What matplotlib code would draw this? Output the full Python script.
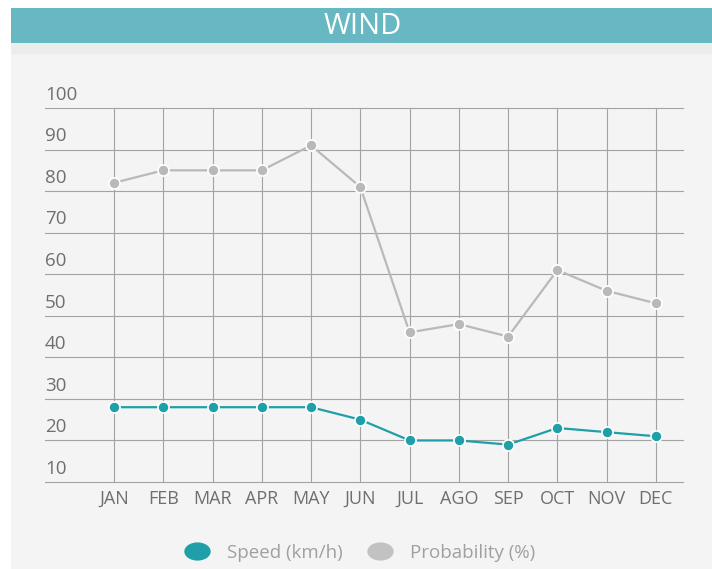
import numpy as np
import matplotlib.pyplot as plt
from matplotlib.patches import Rectangle
from matplotlib.lines import Line2D
from matplotlib.path import Path
from matplotlib.transforms import blended_transform_factory

# Datos mensuales de viento
meses = ['JAN', 'FEB', 'MAR', 'APR', 'MAY', 'JUN', 'JUL', 'AGO', 'SEP', 'OCT', 'NOV', 'DEC']
velocidad = [28, 28, 28, 28, 28, 25, 20, 20, 19, 23, 22, 21]
probabilidad = [82, 85, 85, 85, 91, 81, 46, 48, 45, 61, 56, 53]
ticks_y = [10, 20, 30, 40, 50, 60, 70, 80, 90, 100]

color_titulo = '#67b8c2'
color_vel = '#1f9fa8'
color_prob = '#b9b9b9'
color_texto = '#6f6f6f'
color_grid = '#a3a3a3'

plt.rcParams['font.family'] = ['Open Sans', 'DejaVu Sans']

fig = plt.figure(figsize=(7.12, 5.69), dpi=100)
fig.patch.set_facecolor('white')

W, H = 712, 569
# Panel de fondo y barra del titulo
fig.add_artist(Rectangle((11 / W, 0), 1 - 11 / W, 1 - 8 / H, transform=fig.transFigure,
                         facecolor='#f4f4f4', edgecolor='none', zorder=0))
fig.add_artist(Rectangle((11 / W, 1 - 54 / H), 1 - 11 / W, 11 / H, transform=fig.transFigure,
                         facecolor='#ebedeb', edgecolor='none', zorder=0))
fig.add_artist(Rectangle((11 / W, 1 - 43 / H), 1 - 11 / W, 35 / H, transform=fig.transFigure,
                         facecolor=color_titulo, edgecolor='none', zorder=1))
fig.text(363 / W, 1 - 26 / H, 'WIND', color='white', fontsize=21, ha='center', va='center',
         zorder=2)

ax = fig.add_axes([45 / W, 1 - 482 / H, (683 - 45) / W, (482 - 108) / H])
ax.set_facecolor('none')
x = np.arange(len(meses))
ax.set_xlim(-1.40, 11.55)
ax.set_ylim(10, 100)

# Rejilla
for yv in ticks_y:
    ax.axhline(yv, color=color_grid, lw=0.8, zorder=1, clip_on=False)
for xv in x:
    ax.axvline(xv, color=color_grid, lw=0.8, zorder=1, clip_on=False)

ax.plot(x, probabilidad, color=color_prob, lw=1.6, marker='o', ms=8,
        markerfacecolor=color_prob, markeredgecolor='white', markeredgewidth=1.2, zorder=3)
ax.plot(x, velocidad, color=color_vel, lw=1.6, marker='o', ms=8,
        markerfacecolor=color_vel, markeredgecolor='white', markeredgewidth=1.2, zorder=3)

ax.set_xticks([])
ax.set_yticks([])
for s in ax.spines.values():
    s.set_visible(False)

# Etiquetas del eje Y encima de cada linea
trans = blended_transform_factory(ax.transAxes, ax.transData)
for yv in ticks_y:
    ax.annotate(str(yv), xy=(0, yv), xycoords=trans, xytext=(0, 9.5), textcoords='offset points',
                ha='left', va='center', fontsize=13.5, color=color_texto)

# Etiquetas de los meses
trans_x = blended_transform_factory(ax.transData, ax.transAxes)
for xi, m in zip(x, meses):
    ax.annotate(m, xy=(xi, 0), xycoords=trans_x, xytext=(0, -12), textcoords='offset points',
                ha='center', va='center', fontsize=13, color=color_texto)

# Leyenda con marcadores ovalados
circ = Path.unit_circle()
ovalo = Path(circ.vertices * np.array([1.45, 1.0]), circ.codes)
handles = [
    Line2D([], [], ls='none', marker=ovalo, ms=19, color=color_vel, markeredgecolor='none'),
    Line2D([], [], ls='none', marker=ovalo, ms=19, color='#c2c2c2', markeredgecolor='none'),
]
fig.legend(handles, ['Speed (km/h)', 'Probability (%)'], loc='center', ncol=2,
           bbox_to_anchor=(357 / W, 1 - 553 / H), frameon=False, fontsize=13.5,
           labelcolor='#a0a0a0', handletextpad=0.6, columnspacing=1.0)

fig.savefig('out.png', dpi=100)
